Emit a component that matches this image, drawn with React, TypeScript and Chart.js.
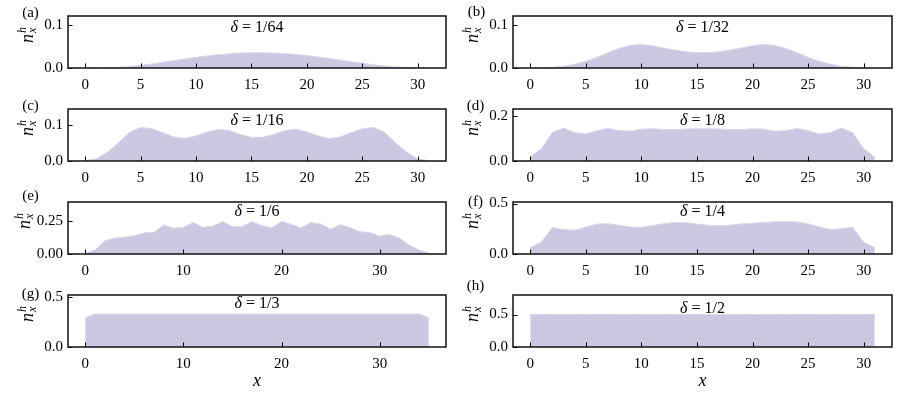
import React, { useEffect, useRef } from 'react';
import { Chart, registerables } from 'chart.js';

Chart.register(...registerables);

// ---------- data ----------
const X32 = [0, 1, 2, 3, 4, 5, 6, 7, 8, 9, 10, 11, 12, 13, 14, 15, 16, 17, 18, 19, 20, 21, 22, 23, 24, 25, 26, 27, 28, 29, 30, 31];
const X36 = [0, 1, 2, 3, 4, 5, 6, 7, 8, 9, 10, 11, 12, 13, 14, 15, 16, 17, 18, 19, 20, 21, 22, 23, 24, 25, 26, 27, 28, 29, 30, 31, 32, 33, 34, 35];

const N_A = [0.0000, 0.0002, 0.0006, 0.0015, 0.0032, 0.0062, 0.0095, 0.0132, 0.0172, 0.0212, 0.0250, 0.0283, 0.0312, 0.0335, 0.0350, 0.0358, 0.0358, 0.0352, 0.0338, 0.0318, 0.0292, 0.0260, 0.0224, 0.0186, 0.0148, 0.0110, 0.0076, 0.0046, 0.0024, 0.0010, 0.0003, 0.0000];
const N_B = [0.0000, 0.0004, 0.0015, 0.0040, 0.0090, 0.0160, 0.0250, 0.0360, 0.0460, 0.0530, 0.0550, 0.0520, 0.0470, 0.0420, 0.0380, 0.0360, 0.0360, 0.0380, 0.0420, 0.0470, 0.0520, 0.0550, 0.0530, 0.0460, 0.0360, 0.0250, 0.0160, 0.0090, 0.0040, 0.0015, 0.0004, 0.0000];
const N_C = [0.001, 0.006, 0.024, 0.050, 0.079, 0.092, 0.089, 0.078, 0.066, 0.062, 0.069, 0.080, 0.087, 0.084, 0.073, 0.065, 0.065, 0.073, 0.084, 0.087, 0.080, 0.069, 0.062, 0.066, 0.078, 0.089, 0.092, 0.079, 0.050, 0.024, 0.006, 0.001];
const N_D = [0.018, 0.055, 0.127, 0.147, 0.126, 0.120, 0.136, 0.145, 0.136, 0.133, 0.142, 0.144, 0.140, 0.140, 0.143, 0.144, 0.144, 0.143, 0.140, 0.140, 0.144, 0.142, 0.133, 0.136, 0.145, 0.136, 0.120, 0.126, 0.147, 0.127, 0.055, 0.018];
const N_E = [0.005, 0.030, 0.100, 0.120, 0.127, 0.138, 0.160, 0.162, 0.220, 0.195, 0.200, 0.238, 0.202, 0.210, 0.245, 0.207, 0.207, 0.245, 0.214, 0.198, 0.245, 0.224, 0.197, 0.238, 0.226, 0.188, 0.221, 0.198, 0.168, 0.162, 0.134, 0.148, 0.120, 0.068, 0.030, 0.007];
const N_F = [0.062, 0.118, 0.262, 0.242, 0.236, 0.266, 0.296, 0.300, 0.284, 0.268, 0.264, 0.282, 0.300, 0.312, 0.310, 0.296, 0.284, 0.280, 0.286, 0.298, 0.304, 0.312, 0.320, 0.322, 0.318, 0.300, 0.268, 0.242, 0.250, 0.266, 0.118, 0.062];
const N_G = [0.293, 0.333, 0.333, 0.333, 0.333, 0.333, 0.333, 0.333, 0.333, 0.333, 0.333, 0.333, 0.333, 0.333, 0.333, 0.333, 0.333, 0.333, 0.333, 0.333, 0.333, 0.333, 0.333, 0.333, 0.333, 0.333, 0.333, 0.333, 0.333, 0.333, 0.333, 0.333, 0.333, 0.333, 0.333, 0.293];
const N_H = [0.5, 0.5, 0.5, 0.5, 0.5, 0.5, 0.5, 0.5, 0.5, 0.5, 0.5, 0.5, 0.5, 0.5, 0.5, 0.5, 0.5, 0.5, 0.5, 0.5, 0.5, 0.5, 0.5, 0.5, 0.5, 0.5, 0.5, 0.5, 0.5, 0.5, 0.5, 0.5];

const PANEL_TAGS = ['(a)', '(b)', '(c)', '(d)', '(e)', '(f)', '(g)', '(h)'];
const DELTA_LABELS = ['1/64', '1/32', '1/16', '1/8', '1/6', '1/4', '1/3', '1/2'];

const X_TICKS_32 = [0, 5, 10, 15, 20, 25, 30];
const X_TICKS_36 = [0, 10, 20, 30];

const Y_MAX = [0.122, 0.122, 0.143, 0.232, 0.393, 0.515, 0.525, 0.8];
const Y_TICKS_01 = [0, 0.1];
const Y_TICKS_02 = [0, 0.2];
const Y_TICKS_025 = [0, 0.25];
const Y_TICKS_05 = [0, 0.5];
const Y_LABELS_01 = ['0.0', '0.1'];
const Y_LABELS_02 = ['0.0', '0.2'];
const Y_LABELS_025 = ['0.00', '0.25'];
const Y_LABELS_05 = ['0.0', '0.5'];

const PANEL_X = [X32, X32, X32, X32, X36, X32, X36, X32];
const PANEL_Y = [N_A, N_B, N_C, N_D, N_E, N_F, N_G, N_H];
const PANEL_XTICKS = [X_TICKS_32, X_TICKS_32, X_TICKS_32, X_TICKS_32, X_TICKS_36, X_TICKS_32, X_TICKS_36, X_TICKS_32];
const PANEL_YTICKS = [Y_TICKS_01, Y_TICKS_01, Y_TICKS_01, Y_TICKS_02, Y_TICKS_025, Y_TICKS_05, Y_TICKS_05, Y_TICKS_05];
const PANEL_YLABELS = [Y_LABELS_01, Y_LABELS_01, Y_LABELS_01, Y_LABELS_02, Y_LABELS_025, Y_LABELS_05, Y_LABELS_05, Y_LABELS_05];

// ---------- layout / style ----------
const FONT = "'Liberation Serif', 'Times New Roman', serif";
const FILL = 'rgba(203, 201, 226, 1)';
const EDGE = 'rgba(216, 214, 235, 1)';
const COL_L = [68, 513];
const COL_R = [446, 892];
const ROW_T = [14, 107, 200, 293];
const PLOT_H = 54;
const PAD_L = 60;
const PAD_T = 12;
const PAD_R = 6;
const PAD_B = 28;

const TAG_POS = [[30.5, 12], [476.5, 11], [30.5, 105], [475.5, 105], [30.5, 195], [475.5, 201], [30.5, 293], [475.5, 285]];
const TITLE_Y = [27, 27, 119.5, 119.5, 211, 210.5, 302.5, 308];
const YLAB_DX = [41, 41, 41, 41, 44, 41, 41, 41];

const frameTicks = {
  id: 'frameTicks',
  afterDatasetsDraw(chart: any) {
    const { ctx, chartArea: a, scales } = chart;
    ctx.save();
    ctx.strokeStyle = '#000';
    ctx.lineWidth = 1;
    ctx.beginPath();
    scales.x.ticks.forEach((t: any) => {
      const px = Math.round(scales.x.getPixelForValue(t.value)) + 0.5;
      ctx.moveTo(px, a.bottom);
      ctx.lineTo(px, a.bottom - 4.5);
    });
    scales.y.ticks.forEach((t: any) => {
      const py = Math.round(scales.y.getPixelForValue(t.value)) + 0.5;
      ctx.moveTo(a.left, py);
      ctx.lineTo(a.left + 4.5, py);
    });
    ctx.stroke();
    ctx.lineWidth = 1.5;
    ctx.strokeStyle = '#111';
    ctx.strokeRect(a.left, a.top, a.right - a.left, a.bottom - a.top);
    ctx.restore();
  },
};

function Panel({ i }: { i: number }) {
  const ref = useRef<HTMLCanvasElement>(null);
  const col = i % 2;
  const row = Math.floor(i / 2);
  const plotW = COL_R[col] - COL_L[col];
  const left = COL_L[col] - PAD_L;
  const top = ROW_T[row] - PAD_T;
  const width = plotW + PAD_L + PAD_R;
  const height = PLOT_H + PAD_T + PAD_B;

  useEffect(() => {
    const xs = PANEL_X[i];
    const ys = PANEL_Y[i];
    const span = xs[xs.length - 1] - xs[0];
    const xTicks = PANEL_XTICKS[i];
    const yTicks = PANEL_YTICKS[i];
    const yLabels = PANEL_YLABELS[i];
    const chart = new Chart(ref.current as HTMLCanvasElement, {
      type: 'line',
      data: {
        datasets: [
          {
            data: xs.map((x, k) => ({ x, y: ys[k] })),
            backgroundColor: FILL,
            borderColor: EDGE,
            borderWidth: 1,
            fill: 'origin',
            pointRadius: 0,
            tension: 0,
          },
        ],
      },
      options: {
        animation: false,
        responsive: false,
        devicePixelRatio: 1,
        layout: { padding: { top: PAD_T, right: PAD_R, left: 0, bottom: 0 } },
        plugins: { legend: { display: false }, tooltip: { enabled: false }, title: { display: false } },
        scales: {
          x: {
            type: 'linear',
            min: xs[0] - 0.05 * span,
            max: xs[xs.length - 1] + 0.05 * span,
            grid: { display: false, drawTicks: false },
            border: { display: false },
            ticks: {
              padding: 8,
              color: '#000',
              font: { family: FONT, size: 15 },
              maxRotation: 0,
              autoSkip: false,
              callback: (v: any) => String(v),
            },
            afterBuildTicks: (s: any) => {
              s.ticks = xTicks.map((v) => ({ value: v }));
            },
            afterFit: (s: any) => {
              s.height = PAD_B;
            },
          },
          y: {
            type: 'linear',
            min: 0,
            max: Y_MAX[i],
            grid: { display: false, drawTicks: false },
            border: { display: false },
            ticks: {
              padding: 5,
              color: '#000',
              font: { family: FONT, size: 15 },
              autoSkip: false,
              callback: (_v: any, idx: number) => yLabels[idx],
            },
            afterBuildTicks: (s: any) => {
              s.ticks = yTicks.map((v) => ({ value: v }));
            },
            afterFit: (s: any) => {
              s.width = PAD_L;
            },
          },
        },
      },
      plugins: [frameTicks],
    });
    return () => chart.destroy();
  }, [i]);

  const cx = (COL_L[col] + COL_R[col]) / 2;
  return (
    <>
      <div style={{ position: 'absolute', left, top, width, height }}>
        <canvas ref={ref} width={width} height={height} style={{ display: 'block', width, height }} />
      </div>
      <div
        style={{
          position: 'absolute',
          left: TAG_POS[i][0],
          top: TAG_POS[i][1],
          transform: 'translate(-50%, -50%)',
          fontFamily: FONT,
          fontSize: 15,
          lineHeight: 1,
          whiteSpace: 'nowrap',
        }}
      >
        {PANEL_TAGS[i]}
      </div>
      <div
        style={{
          position: 'absolute',
          left: cx,
          top: TITLE_Y[i],
          transform: 'translate(-50%, -50%)',
          fontFamily: FONT,
          fontSize: 16,
          lineHeight: 1,
          whiteSpace: 'nowrap',
        }}
      >
        <i>δ</i>
        <span style={{ margin: '0 4px' }}>=</span>
        {DELTA_LABELS[i]}
      </div>
      <div
        style={{
          position: 'absolute',
          left: COL_L[col] - YLAB_DX[i],
          top: ROW_T[row] + 21,
          transform: 'translate(-50%, -50%) rotate(-90deg)',
          fontFamily: FONT,
          lineHeight: 1,
          whiteSpace: 'nowrap',
          display: 'flex',
          alignItems: 'center',
        }}
      >
        <span style={{ fontStyle: 'italic', fontSize: 18 }}>n</span>
        <span style={{ display: 'inline-flex', flexDirection: 'column', fontStyle: 'italic', fontSize: 12, lineHeight: '10px', marginLeft: 1 }}>
          <span>h</span>
          <span>x</span>
        </span>
      </div>
      {row === 3 && (
        <div
          style={{
            position: 'absolute',
            left: cx,
            top: 380,
            transform: 'translate(-50%, -50%)',
            fontFamily: FONT,
            fontStyle: 'italic',
            fontSize: 18,
            lineHeight: 1,
          }}
        >
          x
        </div>
      )}
    </>
  );
}

export default function App() {
  return (
    <div style={{ position: 'fixed', left: 0, top: 0, width: 897, height: 395, background: '#fff', overflow: 'hidden' }}>
      {[0, 1, 2, 3, 4, 5, 6, 7].map((i) => (
        <Panel key={i} i={i} />
      ))}
    </div>
  );
}
